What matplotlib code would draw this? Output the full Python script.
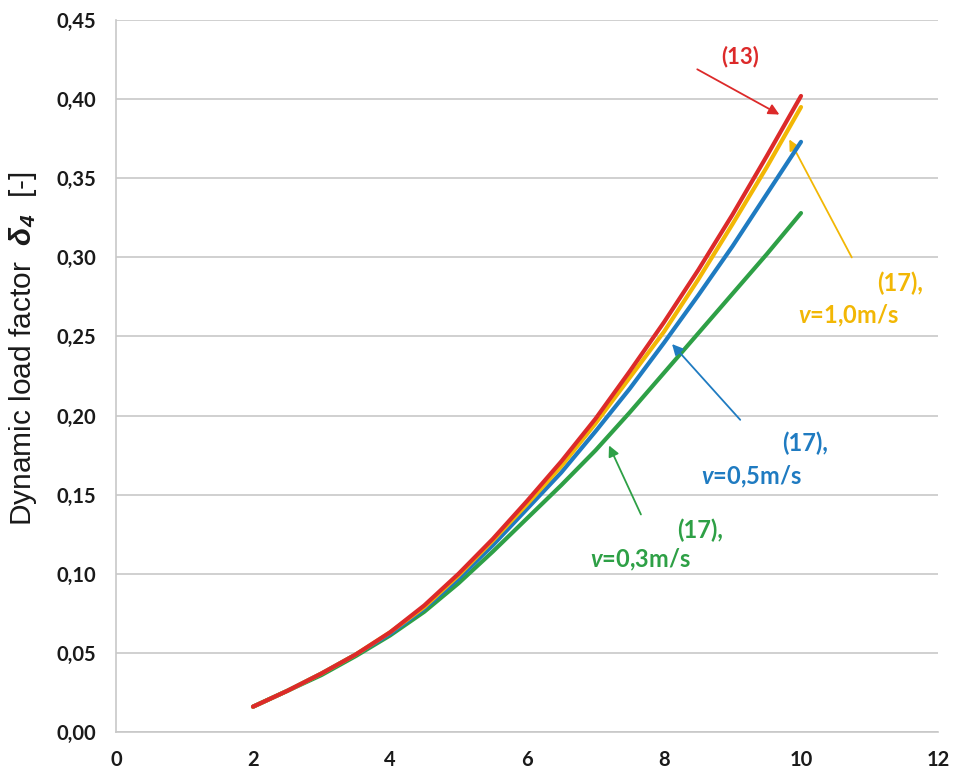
import matplotlib
matplotlib.use("Agg")
import matplotlib.pyplot as plt
from matplotlib.ticker import FuncFormatter

# data
x = [2, 2.5, 3, 3.5, 4, 4.5, 5, 5.5, 6, 6.5, 7, 7.5, 8, 8.5, 9, 9.5, 10]
red_13 = [0.016, 0.026, 0.037, 0.049, 0.063, 0.080, 0.100, 0.122, 0.146, 0.171,
          0.198, 0.228, 0.259, 0.292, 0.327, 0.364, 0.402]
yellow_v10 = [0.016, 0.026, 0.037, 0.049, 0.063, 0.079, 0.099, 0.121, 0.144, 0.168,
              0.195, 0.224, 0.253, 0.286, 0.321, 0.357, 0.395]
blue_v05 = [0.016, 0.026, 0.037, 0.049, 0.062, 0.078, 0.097, 0.118, 0.141, 0.164,
            0.190, 0.217, 0.246, 0.276, 0.307, 0.340, 0.373]
green_v03 = [0.016, 0.026, 0.036, 0.048, 0.061, 0.076, 0.094, 0.114, 0.135, 0.156,
             0.178, 0.202, 0.227, 0.252, 0.277, 0.302, 0.328]

x_ticks = [0, 2, 4, 6, 8, 10, 12]
y_ticks = [0.0, 0.05, 0.10, 0.15, 0.20, 0.25, 0.30, 0.35, 0.40, 0.45]

RED = "#DC2A2A"
YELLOW = "#F2B705"
BLUE = "#1F7BC1"
GREEN = "#2EA046"
GRID = "#C8C8C8"

plt.rcParams['mathtext.fontset'] = 'custom'
plt.rcParams['mathtext.bf'] = 'Liberation Sans:italic:bold'
plt.rcParams['mathtext.it'] = 'Lato:italic:bold'
plt.rcParams['mathtext.rm'] = 'Lato:bold'

fig = plt.figure(figsize=(9.55, 7.76), dpi=100)
ax = fig.add_axes([0.1215, 0.0567, 0.8607, 0.9175])

# lines, red drawn last (on top)
ax.plot(x, green_v03, color=GREEN, lw=3.0, solid_capstyle='round', zorder=3)
ax.plot(x, blue_v05, color=BLUE, lw=3.0, solid_capstyle='round', zorder=4)
ax.plot(x, yellow_v10, color=YELLOW, lw=3.0, solid_capstyle='round', zorder=5)
ax.plot(x, red_13, color=RED, lw=3.0, solid_capstyle='round', zorder=6)

ax.set_xlim(0, 12)
ax.set_ylim(0, 0.45)
ax.set_xticks(x_ticks)
ax.set_yticks(y_ticks)
ax.xaxis.set_major_formatter(FuncFormatter(lambda v, p: f"{v:g}"))
ax.yaxis.set_major_formatter(FuncFormatter(lambda v, p: f"{v:.2f}".replace('.', ',')))
ax.tick_params(length=0, labelsize=14.5, colors="#1a1a1a")
ax.tick_params(axis='y', pad=14)
ax.tick_params(axis='x', pad=13)
for lab in ax.get_xticklabels() + ax.get_yticklabels():
    lab.set_fontfamily('Lato')
    lab.set_fontweight('bold')

ax.grid(axis='y', color=GRID, lw=1.2)
ax.set_axisbelow(True)
for s in ['top', 'right']:
    ax.spines[s].set_visible(False)
for s in ['left', 'bottom']:
    ax.spines[s].set_color(GRID)
    ax.spines[s].set_linewidth(1.2)

ax.set_ylabel(r"Dynamic load factor  $\mathbf{\delta_4}$  [-]", fontsize=21.5,
              family='Liberation Sans', color="#1a1a1a")
ax.yaxis.set_label_coords(-0.094, 0.538)

# annotations
tkw = dict(fontsize=17, fontweight='bold', family='Lato', ha='center', va='center')

ax.annotate("", xy=(9.72, 0.3894), xytext=(8.45, 0.4197),
            arrowprops=dict(arrowstyle='-|>', color=RED, lw=1.3, mutation_scale=16))
ax.text(9.11, 0.4267, "(13)", color=RED, **dict(tkw, fontsize=16))

ax.annotate("", xy=(9.81, 0.3761), xytext=(10.76, 0.2984),
            arrowprops=dict(arrowstyle='-|>', color=YELLOW, lw=1.3, mutation_scale=16))
ax.text(11.45, 0.2838, "(17),", color=YELLOW, **tkw)
ax.text(10.69, 0.263, r"$v$=1,0m/s", color=YELLOW, **tkw)

ax.annotate("", xy=(8.09, 0.2465), xytext=(9.14, 0.196),
            arrowprops=dict(arrowstyle='-|>', color=BLUE, lw=1.3, mutation_scale=16))
ax.text(10.06, 0.1827, "(17),", color=BLUE, **tkw)
ax.text(9.27, 0.1612, r"$v$=0,5m/s", color=BLUE, **tkw)

ax.annotate("", xy=(7.18, 0.1827), xytext=(7.68, 0.1359),
            arrowprops=dict(arrowstyle='-|>', color=GREEN, lw=1.3, mutation_scale=16))
ax.text(8.53, 0.1277, "(17),", color=GREEN, **tkw)
ax.text(7.66, 0.1087, r"$v$=0,3m/s", color=GREEN, **tkw)

fig.savefig("out.png", dpi=100)
